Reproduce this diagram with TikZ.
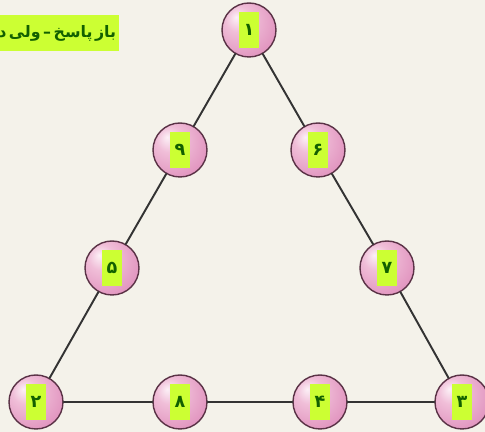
\documentclass[tikz,border=0pt]{standalone}
\usepackage{fontspec}
\newfontfamily\arabicfont[Script=Arabic]{DejaVu Sans}
\TeXXeTstate=1
\definecolor{bgcream}{RGB}{244,242,234}
\definecolor{tagyellow}{RGB}{204,255,51}
\definecolor{taggreen}{RGB}{18,96,0}
\definecolor{ballhi}{RGB}{252,240,246}
\definecolor{ballmid}{RGB}{240,190,216}
\definecolor{ballpink}{RGB}{222,140,186}
\definecolor{balldark}{RGB}{196,112,158}
\definecolor{ballrim}{RGB}{90,50,70}
\pgfdeclareradialshading{pinkball}{\pgfpoint{-12bp}{12bp}}{color(0bp)=(ballhi);color(12bp)=(ballmid);color(38bp)=(ballpink);color(58bp)=(balldark);color(70bp)=(balldark)}
\newcommand\numtag[1]{{\setlength\fboxsep{0pt}\colorbox{tagyellow}{\parbox[c][0.72cm][c]{0.42cm}{\centering\arabicfont\bfseries\color{taggreen}#1}}}}
\begin{document}
\begin{tikzpicture}[x=0.02cm,y=-0.02cm,line join=round,line cap=round,
	ball/.style={circle,draw=ballrim,line width=0.8pt,shading=pinkball,minimum size=1.08cm,inner sep=0pt},
	edge/.style={line width=1.1pt,draw=black!80}]
	\useasboundingbox (0,0) rectangle (485,432);
	\clip (0,0) rectangle (485,432);
	\fill[bgcream] (0,0) rectangle (485,432);
	\node[fill=tagyellow,text=taggreen,font=\arabicfont\bfseries\small,anchor=east,minimum height=0.72cm,inner xsep=1.5pt] (title) at (119,33) {\spaceskip=0.16em\beginR باز پاسخ – ولی د\endR};
	% the nine balls
	\node[ball] (n1) at (249,30) {\numtag{۱}};
	\node[ball] (n9) at (180,150) {\numtag{۹}};
	\node[ball] (n6) at (318,150) {\numtag{۶}};
	\node[ball] (n5) at (112,268) {\numtag{۵}};
	\node[ball] (n7) at (387,268) {\numtag{۷}};
	\node[ball] (n2) at (36,402) {\numtag{۲}};
	\node[ball] (n8) at (180,402) {\numtag{۸}};
	\node[ball] (n4) at (320,402) {\numtag{۴}};
	\node[ball] (n3) at (462,402) {\numtag{۳}};
	% sides of the triangle
	\draw[edge] (n1) -- (n9) -- (n5) -- (n2) -- (n8) -- (n4) -- (n3) -- (n7) -- (n6) -- (n1);
\end{tikzpicture}
\end{document}
